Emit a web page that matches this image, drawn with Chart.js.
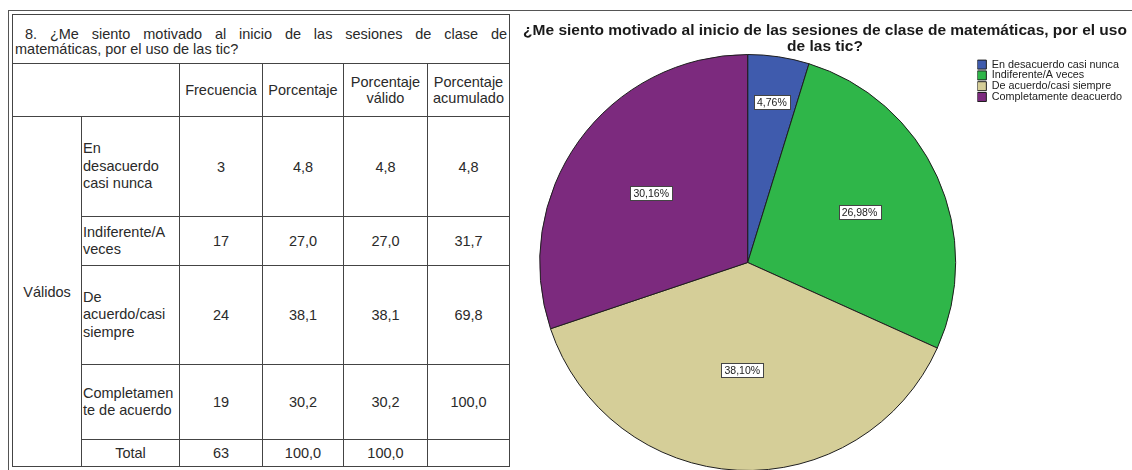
<!DOCTYPE html>
<html>
<head>
<meta charset="utf-8">
<script src="https://cdn.jsdelivr.net/npm/chart.js@4.4.1/dist/chart.umd.min.js"></script>
<style>
  body { margin: 0; width: 1132px; height: 470px; overflow: hidden; background: #fff; position: relative;
         font-family: Arial, "Liberation Sans", sans-serif; }
  #marco { position: absolute; left: 8px; top: 10px; width: 1300px; height: 600px;
           border-left: 1px solid #555; border-top: 1px solid #555; }
  #tabla { position: absolute; left: 12px; top: 14px; border-collapse: collapse; table-layout: fixed;
           width: 497px; font-size: 14.5px; color: #2a2a2a; }
  #tabla td { border: 1px solid #444; padding: 0; vertical-align: middle; text-align: center; line-height: 16px; }
  #tabla td.titulo { text-align: left; padding: 5px 2px 0 2px; line-height: 15px; }
  #tabla td.titulo .l1 { text-indent: 10px; text-align: justify; text-align-last: justify; }
  #tabla td.etq { text-align: left; padding-left: 1px; white-space: pre-line; line-height: 17.5px; }
  #grafico { position: absolute; left: 512px; top: 12px; }
</style>
</head>
<body>
<div id="marco"></div>
<table id="tabla">
  <colgroup>
    <col style="width:69px"><col style="width:98px"><col style="width:83px">
    <col style="width:81px"><col style="width:84px"><col style="width:82px">
  </colgroup>
  <tbody id="cuerpo"></tbody>
</table>
<canvas id="grafico" width="620" height="470"></canvas>

<script>
// Datos de la pregunta 8
const pregunta = '8. ¿Me siento motivado al inicio de las sesiones de clase de';
const pregunta2 = 'matemáticas, por el uso de las tic?';
const tituloGrafico = ['¿Me siento motivado al inicio de las sesiones de clase de matemáticas, por el uso', 'de las tic?'];
const columnas = ['Frecuencia', 'Porcentaje', 'Porcentaje\nválido', 'Porcentaje\nacumulado'];

const categorias = ['En desacuerdo casi nunca', 'Indiferente/A veces', 'De acuerdo/casi siempre', 'Completamente deacuerdo'];
const etiquetasTabla = ['En\ndesacuerdo\ncasi nunca', 'Indiferente/A\nveces', 'De\nacuerdo/casi\nsiempre', 'Completamen\nte de acuerdo'];
const frecuencia = [3, 17, 24, 19];
const porcentaje = ['4,8', '27,0', '38,1', '30,2'];
const porcentajeValido = ['4,8', '27,0', '38,1', '30,2'];
const porcentajeAcumulado = ['4,8', '31,7', '69,8', '100,0'];
const filaTotal = ['Total', '63', '100,0', '100,0', ''];

const colores = ['#3f5bad', '#2fb649', '#d5ce98', '#7c2a7e'];
const alturas = [100, 49, 99, 75];

// Tabla de frecuencias
const cuerpo = document.getElementById('cuerpo');
let html = '<tr style="height:49px"><td class="titulo" colspan="6"><div class="l1">' + pregunta +
  '</div><div>' + pregunta2 + '</div></td></tr>';
html += '<tr style="height:53px"><td colspan="2"></td>' +
  columnas.map(c => '<td style="white-space:pre-line">' + c + '</td>').join('') + '</tr>';
categorias.forEach((c, i) => {
  html += '<tr style="height:' + alturas[i] + 'px">';
  if (i === 0) html += '<td rowspan="5">Válidos</td>';
  html += '<td class="etq">' + etiquetasTabla[i] + '</td><td>' + frecuencia[i] + '</td><td>' + porcentaje[i] +
    '</td><td>' + porcentajeValido[i] + '</td><td>' + porcentajeAcumulado[i] + '</td></tr>';
});
html += '<tr style="height:27px">' + filaTotal.map(v => '<td>' + v + '</td>').join('') + '</tr>';
cuerpo.innerHTML = html;

// Etiquetas de porcentaje dentro de cada sector
const etiquetasSectores = {
  id: 'etiquetasSectores',
  afterDatasetsDraw(chart) {
    const ctx = chart.ctx;
    const datos = chart.data.datasets[0].data;
    const total = datos.reduce((a, b) => a + b, 0);
    chart.getDatasetMeta(0).data.forEach((arc, i) => {
      const p = arc.getProps(['x', 'y', 'startAngle', 'endAngle', 'outerRadius']);
      const ang = p.endAngle - p.startAngle;
      const medio = (p.startAngle + p.endAngle) / 2;
      // centroide del sector; los sectores estrechos se empujan hacia afuera
      let r = 4 * p.outerRadius * Math.sin(ang / 2) / (3 * ang);
      if (ang < 0.5) r = p.outerRadius * 0.78;
      const x = p.x + r * Math.cos(medio);
      const y = p.y + r * Math.sin(medio);
      const texto = (datos[i] / total * 100).toFixed(2).replace('.', ',') + '%';
      ctx.save();
      ctx.font = '10.5px Arial';
      const w = ctx.measureText(texto).width + 6;
      const h = 14;
      ctx.fillStyle = '#fff';
      ctx.fillRect(Math.round(x - w / 2) + 0.5, Math.round(y - h / 2) + 0.5, Math.round(w), h);
      ctx.strokeStyle = '#444';
      ctx.lineWidth = 1;
      ctx.strokeRect(Math.round(x - w / 2) + 0.5, Math.round(y - h / 2) + 0.5, Math.round(w), h);
      ctx.fillStyle = '#222';
      ctx.textAlign = 'center';
      ctx.textBaseline = 'middle';
      ctx.fillText(texto, x, y + 1);
      ctx.restore();
    });
  }
};

const ctx = document.getElementById('grafico').getContext('2d');
new Chart(ctx, {
  type: 'pie',
  data: {
    labels: categorias,
    datasets: [{
      data: frecuencia,
      backgroundColor: colores,
      borderColor: '#1e1e1e',
      borderWidth: 1
    }]
  },
  options: {
    responsive: false,
    animation: false,
    layout: { padding: { left: 6, right: 0, top: 11, bottom: 11 } },
    plugins: {
      title: {
        display: true,
        text: tituloGrafico,
        color: '#1a1a1a',
        font: { family: 'Arial', size: 15.5, weight: 'bold', lineHeight: 1.0 },
        padding: { top: 0, bottom: 0 }
      },
      legend: {
        position: 'right',
        align: 'start',
        fullSize: false,
        title: { display: true, text: '', font: { size: 1 }, padding: { top: 4, bottom: 0 } },
        labels: {
          boxWidth: 9,
          boxHeight: 9,
          padding: 0,
          color: '#222',
          font: { family: 'Arial', size: 10.8 }
        }
      },
      tooltip: { enabled: false }
    }
  },
  plugins: [etiquetasSectores]
});
</script>
</body>
</html>
